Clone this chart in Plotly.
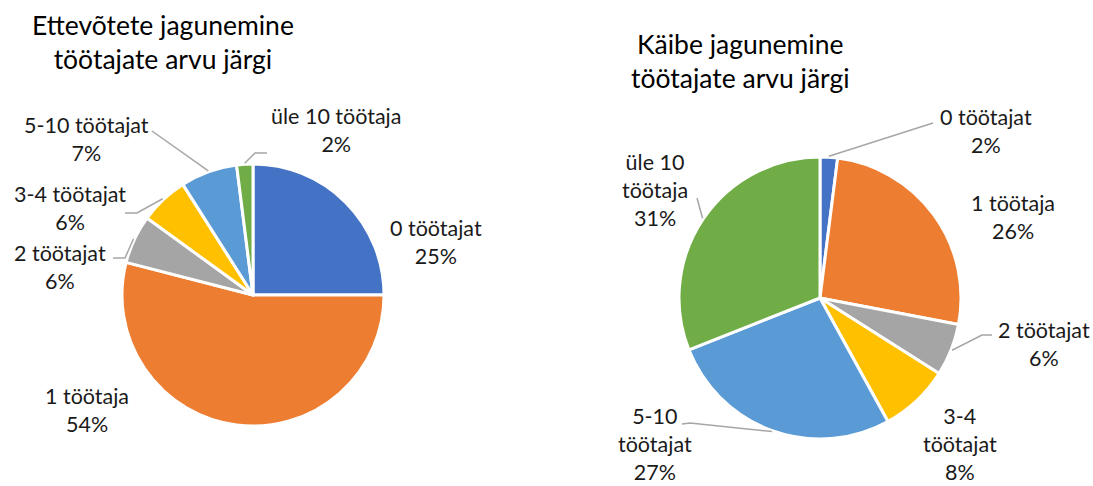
import math
import plotly.graph_objects as go

# ---- data ----
categories_left = ["0 töötajat", "1 töötaja", "2 töötajat", "3-4 töötajat", "5-10 töötajat", "üle 10 töötaja"]
values_left = [25, 54, 6, 6, 7, 2]
categories_right = ["0 töötajat", "1 töötaja", "2 töötajat", "3-4 töötajat", "5-10 töötajat", "üle 10 töötaja"]
values_right = [2, 26, 6, 8, 27, 31]
label_text_left = ["0 töötajat", "1 töötaja", "2 töötajat", "3-4 töötajat", "5-10 töötajat", "üle 10 töötaja"]
label_text_right = ["0 töötajat", "1 töötaja", "2 töötajat", "3-4<br>töötajat", "5-10<br>töötajat", "üle 10<br>töötaja"]
title_left = "Ettevõtete jagunemine<br>töötajate arvu järgi"
title_right = "Käibe jagunemine<br>töötajate arvu järgi"

# ---- layout / style ----
W, H = 1093, 486
colors = ["#4472C4", "#ED7D31", "#A5A5A5", "#FFC000", "#5B9BD5", "#70AD47"]
FONT = "Lato"
LABEL_SIZE = 21.5
TITLE_SIZE = 26.5
LEADER = "#A6A6A6"

pies = [
    dict(values=values_left, cats=categories_left, texts=label_text_left,
         cx=253, cy=295, r=131, title=title_left, tx=163, ty=42,
         # label centre (px) and leader-line extra points (px), in slice order
         labels=[(436, 242), (87, 410), (60, 267), (70, 208), (86, 139), (336, 130)],
         leaders=[None, None, [(125, 258), (113, 258)], [(137, 213), (125, 213)],
                  [(152, 131)], [(255, 153), (267, 153)]]),
    dict(values=values_right, cats=categories_right, texts=label_text_right,
         cx=820, cy=298, r=141, title=title_right, tx=740, ty=61,
         labels=[(986, 131), (1013, 217), (1044, 344), (960, 444), (655, 444), (655, 190)],
         leaders=[[(933, 123)], None, [(982, 335), (992, 335)], None,
                  [(690, 423), (682, 424)], [(697, 198)]]),
]


def px(x):
    return x / W


def py(y):
    return 1 - y / H


fig = go.Figure()
shapes = []
annotations = []
for p in pies:
    fig.add_trace(go.Pie(
        labels=p["cats"], values=p["values"], sort=False, direction="clockwise", rotation=0,
        marker=dict(colors=colors, line=dict(color="white", width=3)),
        textinfo="none", hoverinfo="label+percent", showlegend=False,
        domain=dict(x=[px(p["cx"] - p["r"]), px(p["cx"] + p["r"])],
                    y=[py(p["cy"] + p["r"]), py(p["cy"] - p["r"])]),
    ))
    total = sum(p["values"])
    cum = 0
    for i, v in enumerate(p["values"]):
        mid = (cum + v / 2) / total * 2 * math.pi
        cum += v
        pct = round(v / total * 100)
        lx, ly = p["labels"][i]
        annotations.append(dict(
            x=px(lx), y=py(ly), xref="paper", yref="paper", showarrow=False,
            text=f"{p['texts'][i]}<br>{pct}%", align="center",
            font=dict(family=FONT, size=LABEL_SIZE, color="#1a1a1a"),
            xanchor="center", yanchor="middle"))
        if p["leaders"][i]:
            sx = p["cx"] + (p["r"] + 1) * math.sin(mid)
            sy = p["cy"] - (p["r"] + 1) * math.cos(mid)
            pts = [(sx, sy)] + p["leaders"][i]
            path = "M " + " L ".join(f"{px(a)},{py(b)}" for a, b in pts)
            shapes.append(dict(type="path", path=path, xref="paper", yref="paper",
                               line=dict(color=LEADER, width=1.5)))
    annotations.append(dict(
        x=px(p["tx"]), y=py(p["ty"]), xref="paper", yref="paper", showarrow=False,
        text=p["title"], align="center",
        font=dict(family=FONT, size=TITLE_SIZE, color="#000000"),
        xanchor="center", yanchor="middle"))

fig.update_layout(
    width=W, height=H, margin=dict(l=0, r=0, t=0, b=0),
    paper_bgcolor="white", plot_bgcolor="white",
    shapes=shapes, annotations=annotations,
)
fig.write_html("out.html", config={"displayModeBar": False})

# remove the default page margin so the figure sits at the window's top-left corner
with open("out.html", encoding="utf-8") as f:
    html = f.read()
html = html.replace("<head>", "<head><style>html,body{margin:0;padding:0;overflow:hidden;}</style>", 1)
with open("out.html", "w", encoding="utf-8") as f:
    f.write(html)
